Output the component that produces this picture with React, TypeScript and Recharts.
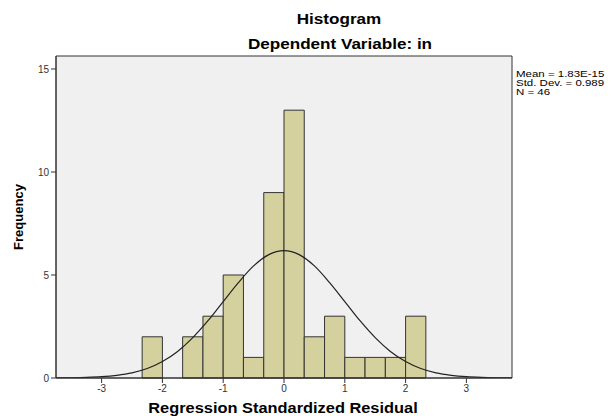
import React from 'react'
import { ComposedChart, Line, XAxis, YAxis, CartesianGrid, ReferenceArea } from 'recharts'

// histogram bins (edges) and counts
const binEdges = [-2.333, -2, -1.667, -1.333, -1, -0.667, -0.333, 0, 0.333, 0.667, 1, 1.333, 1.667, 2, 2.333]
const binCounts = [2, 0, 2, 3, 5, 1, 9, 13, 2, 3, 1, 1, 1, 3]

// fitted normal curve, read at every 0.25
const curveX = [-3.75, -3.5, -3.25, -3, -2.75, -2.5, -2.25, -2, -1.75, -1.5, -1.25, -1, -0.75, -0.5, -0.25, 0, 0.25, 0.5, 0.75, 1, 1.25, 1.5, 1.75, 2, 2.25, 2.5, 2.75, 3, 3.25, 3.5, 3.75]
const curveY = [0.005, 0.012, 0.028, 0.062, 0.13, 0.25, 0.46, 0.8, 1.29, 1.96, 2.78, 3.71, 4.63, 5.44, 5.99, 6.18, 5.99, 5.44, 4.63, 3.71, 2.78, 1.96, 1.29, 0.8, 0.46, 0.25, 0.13, 0.062, 0.028, 0.012, 0.005]

const xTicks = [-3, -2, -1, 0, 1, 2, 3]
const yTicks = [0, 5, 10, 15]
const statLines = ['Mean = 1.83E-15', 'Std. Dev. = 0.989', 'N = 46']

const curveData = curveX.map((x, i) => ({ x, y: curveY[i] }))

const font = 'Arial, "Liberation Sans", sans-serif'
const X_DOMAIN: [number, number] = [-3.75, 3.75]
const Y_DOMAIN: [number, number] = [0, 15.63]

// SPSS text is drawn a bit wide
const wide = (cx: number, top: number, size: number, text: string, sx = 1.22) => (
  <div
    style={{
      position: 'absolute',
      left: cx,
      top,
      fontWeight: 'bold',
      fontSize: size,
      whiteSpace: 'nowrap',
      transform: `translateX(-50%) scaleX(${sx})`,
    }}
  >
    {text}
  </div>
)

export default function App() {
  return (
    <div style={{ position: 'absolute', left: 0, top: 0, width: 611, height: 416, background: '#fff', fontFamily: font, overflow: 'hidden' }}>
      {wide(339, 11, 14, 'Histogram')}
      {wide(340, 36, 14, 'Dependent Variable: in')}

      <ComposedChart width={611} height={416} data={curveData} margin={{ top: 56, right: 99, bottom: 0, left: 10 }}>
        <CartesianGrid fill="#f0f0f0" horizontal={false} vertical={false} />
        {binCounts.map((c, i) =>
          c > 0 ? (
            <ReferenceArea
              key={i}
              x1={binEdges[i]}
              x2={binEdges[i + 1]}
              y1={0}
              y2={c}
              fill="#d4d19e"
              fillOpacity={1}
              stroke="#333"
              strokeWidth={1}
              strokeOpacity={1}
            />
          ) : null
        )}
        <ReferenceArea x1={X_DOMAIN[0]} x2={X_DOMAIN[1]} y1={Y_DOMAIN[0]} y2={Y_DOMAIN[1]} fill="none" stroke="#333" strokeOpacity={1} />
        <XAxis
          type="number"
          dataKey="x"
          domain={X_DOMAIN}
          ticks={xTicks}
          allowDataOverflow
          height={38}
          tickSize={5}
          axisLine={{ stroke: '#333' }}
          tickLine={{ stroke: '#333' }}
          tick={{ fontSize: 10, fill: '#333', fontFamily: font }}
        />
        <YAxis
          type="number"
          domain={Y_DOMAIN}
          ticks={yTicks}
          allowDataOverflow
          width={46}
          tickSize={5}
          axisLine={{ stroke: '#333' }}
          tickLine={{ stroke: '#333' }}
          tick={{ fontSize: 10, fill: '#333', fontFamily: font }}
        />
        <Line type="monotone" dataKey="y" stroke="#222" strokeWidth={1.2} dot={false} isAnimationActive={false} />
      </ComposedChart>

      <div style={{ position: 'absolute', left: 516, top: 70, fontSize: 8.5, lineHeight: '9px', whiteSpace: 'nowrap', transform: 'scaleX(1.35)', transformOrigin: 'top left' }}>
        {statLines.map((s) => (
          <div key={s}>{s}</div>
        ))}
      </div>
      <div style={{ position: 'absolute', left: 18, top: 217, fontWeight: 'bold', fontSize: 13, transform: 'translate(-50%, -50%) rotate(-90deg)', whiteSpace: 'nowrap' }}>Frequency</div>
      {wide(283, 400, 14, 'Regression Standardized Residual', 1.17)}
    </div>
  )
}
